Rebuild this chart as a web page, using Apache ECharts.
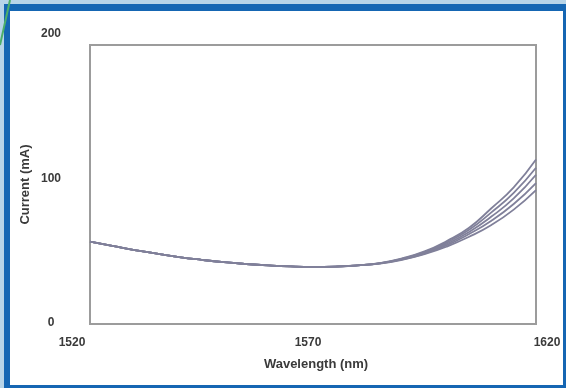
<!DOCTYPE html>
<html>
<head>
<meta charset="utf-8">
<script src="https://cdn.jsdelivr.net/npm/echarts@6/dist/echarts.min.js"></script>
<style>
html,body{margin:0;padding:0;background:#b7d4e8;}
#c{width:566px;height:388px;}
</style>
</head>
<body>
<div id="c"></div>
<script>
// Wavelength (nm)
var wavelengths = [1520,1525,1530,1535,1540,1545,1550,1555,1560,1565,1570,1575,1580,1585,1590,1595,1600,1605,1610,1615,1620];
// Current (mA) – five overlapping traces, diverging at long wavelengths
var trace1 = [59,56,53,50.5,48,46,44.3,43,42,41.3,41,41.2,42,43.3,46.0,50.0,55.5,62.5,71,82,96];
var trace2 = [59,56,53,50.5,48,46,44.3,43,42,41.3,41,41.2,42,43.4,46.3,50.5,56.5,64.5,74,86,101];
var trace3 = [59,56,53,50.5,48,46,44.3,43,42,41.3,41,41.2,42,43.5,46.5,51.0,57.5,66.0,77,90,107];
var trace4 = [59,56,53,50.5,48,46,44.3,43,42,41.3,41,41.2,42,43.6,46.8,51.5,58.5,67.5,80,94,112];
var trace5 = [59,56,53,50.5,48,46,44.3,43,42,41.3,41,41.2,42,43.7,47.1,52.0,59.5,69.0,83,98,118];
var traces = [trace1, trace2, trace3, trace4, trace5];
var xTicks = [1520, 1570, 1620];
var yTicks = [0, 100, 200];
var xTitle = 'Wavelength (nm)';
var yTitle = 'Current (mA)';

var font = {fontFamily:'Liberation Sans', fontWeight:'bold', fontSize:12, color:'#3a3a3a'};
function rs(pad){ return Object.assign({padding:pad}, font); }

var chart = echarts.init(document.getElementById('c'));
var series = traces.map(function(t){
  return {
    type:'line', smooth:true, showSymbol:false, silent:true,
    lineStyle:{color:'#80809a', width:1.8},
    data: wavelengths.map(function(w,i){ return [w, t[i]]; })
  };
});
chart.setOption({
  animation:false,
  backgroundColor:'#b7d4e8',
  graphic:[
    {type:'rect', z:-10, shape:{x:4,y:4,width:562,height:384}, style:{fill:'#1566b3'}},
    {type:'rect', z:-9, shape:{x:10,y:11,width:553,height:374}, style:{fill:'#ffffff'}},
    {type:'line', z:-8, shape:{x1:10,y1:0,x2:0,y2:45}, style:{stroke:'#4caf6a', lineWidth:2}}
  ],
  grid:{left:90, right:30, top:45, bottom:64, show:true, borderColor:'#9c9c9c', borderWidth:2, backgroundColor:'transparent'},
  xAxis:{
    type:'value', min:1520, max:1620, interval:50,
    axisLine:{show:false}, axisTick:{show:false}, splitLine:{show:false},
    axisLabel:{
      margin:13, showMinLabel:true, showMaxLabel:true,
      formatter:function(v){ return '{x'+v+'|'+v+'}'; },
      rich:{ x1520: rs([0,36,0,0]), x1570: rs([0,10,0,0]), x1620: rs([0,0,0,22]) }
    },
    name:xTitle, nameLocation:'middle', nameGap:34, nameMoveOverlap:false,
    nameTextStyle:{fontFamily:'Liberation Sans', fontWeight:'bold', fontSize:13, color:'#3a3a3a', padding:[0,0,0,6]}
  },
  yAxis:{
    type:'value', min:0, max:200, interval:100,
    axisLine:{show:false}, axisTick:{show:false}, splitLine:{show:false},
    axisLabel:{
      margin:39, align:'center', showMinLabel:true, showMaxLabel:true,
      formatter:function(v){ return '{y'+v+'|'+v+'}'; },
      rich:{ y0: rs([0,0,2,0]), y100: rs([0,0,12,0]), y200: rs([0,0,22,0]) }
    },
    name:yTitle, nameLocation:'middle', nameGap:58, nameMoveOverlap:false,
    nameTextStyle:{fontFamily:'Liberation Sans', fontWeight:'bold', fontSize:13, color:'#3a3a3a'}
  },
  series: series
});
</script>
</body>
</html>
